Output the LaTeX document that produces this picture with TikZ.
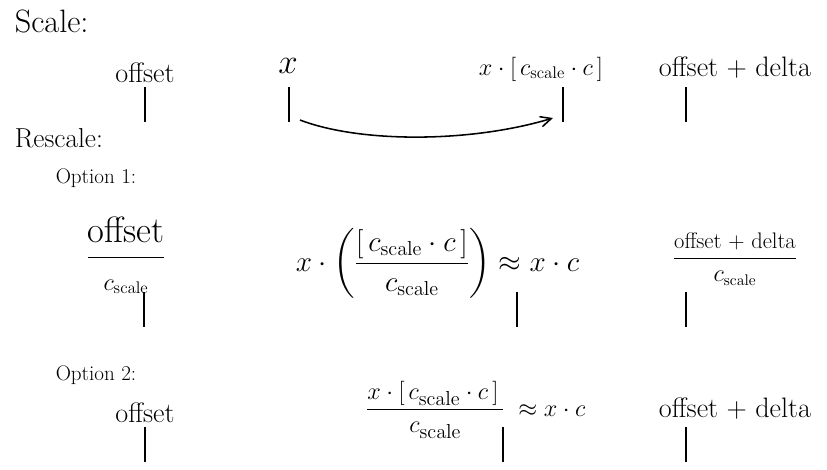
\documentclass[tikz,border=0pt]{standalone}
\usepackage{amsmath}
\usetikzlibrary{arrows.meta, positioning}

\tikzset{
  lbl/.style={anchor=base, inner sep=0pt, font=\fontsize{20}{22}\selectfont},
  hd/.style={anchor=base west, inner sep=0pt, font=\fontsize{20}{22}\selectfont},
  opt/.style={anchor=base west, inner sep=0pt, font=\fontsize{15}{17}\selectfont},
  arr/.style={-{Straight Barb[length=2.7mm, width=2.6mm]}},
}
\newcommand{\cs}{c_{\mathrm{scale}}}

\begin{document}
\begin{tikzpicture}[x=0.25mm, y=-0.25mm, line width=1.1pt]
    \useasboundingbox (0,0) rectangle (827,469);

    % Scale
    \node[hd, font=\fontsize{23}{25}\selectfont] (scale) at (14,32) {Scale:};
    \node[lbl] (off1) at (145,82) {offset};
    \node[lbl, font=\fontsize{24}{26}\selectfont] (x1) at (288,73) {$x$};
    \node[lbl, font=\fontsize{18}{20}\selectfont] (xr1) at (541,75) {$x\cdot[\,\cs\cdot c\,]$};
    \node[lbl] (od1) at (735,76) {offset + delta};

    \coordinate (t1a) at (145,87);
    \coordinate (t1b) at (289,87);
    \coordinate (t1c) at (563,87);
    \coordinate (t1d) at (686,87);
    \coordinate (a0) at (300,120);
    \coordinate (a1) at (553,118);
    \draw[arr] (a0) .. controls (360,143) and (470,143) .. (a1);

    % Rescale, option 1
    \node[hd, font=\fontsize{19.5}{21}\selectfont] (rescale) at (14,147) {Rescale:};
    \node[opt] (opt1) at (55,183) {Option 1:};
    \node[lbl, font=\fontsize{26}{28}\selectfont] (fr1) at (126,266) {$\dfrac{\text{offset}}{\scriptstyle\cs}$};
    \node[lbl, anchor=base west] (fr2) at (295,271) {$x\cdot\left(\dfrac{[\,\cs\cdot c\,]}{\cs}\right)\approx x\cdot c$};
    \node[lbl, font=\fontsize{16}{18}\selectfont] (fr3) at (735,265) {$\dfrac{\text{offset + delta}}{\cs}$};

    \coordinate (t2a) at (144,292);
    \coordinate (t2b) at (517,292);
    \coordinate (t2c) at (686,292);

    % option 2
    \node[opt] (opt2) at (55,380) {Option 2:};
    \node[lbl] (off3) at (145,422) {offset};
    \node[lbl, anchor=base west, font=\fontsize{19}{21}\selectfont] (fr4) at (365,416) {$\dfrac{x\cdot[\,\cs\cdot c\,]\hspace{1.2mm}}{\cs}\;\approx x\cdot c$};
    \node[lbl] (od3) at (735,417) {offset + delta};

    \coordinate (t3a) at (145,427);
    \coordinate (t3b) at (503,427);
    \coordinate (t3c) at (686,427);

    \foreach \t in {t1a,t1b,t1c,t1d,t2a,t2b,t2c,t3a,t3b,t3c}
        \draw (\t) -- ++(0,35);
\end{tikzpicture}
\end{document}
